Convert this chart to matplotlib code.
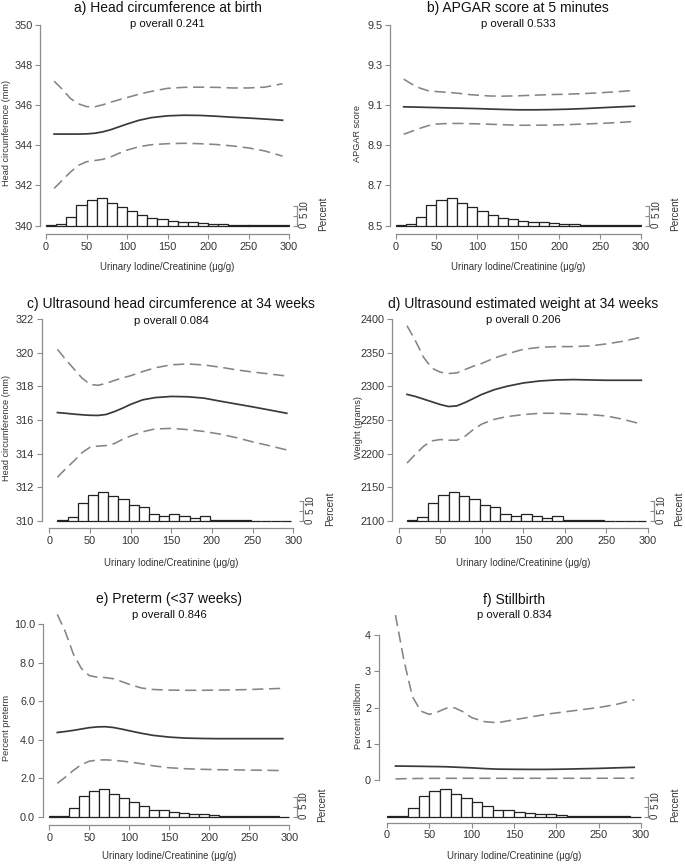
import matplotlib
matplotlib.use("Agg")
import matplotlib.pyplot as plt

plt.rcParams['font.family'] = ['Liberation Sans', 'DejaVu Sans']

# ---------------- data ----------------
x_curve = [10, 20, 30, 40, 50, 60, 70, 80, 90, 100, 115, 130, 150, 170, 190, 210, 230, 250, 270, 292]

a_est = [344.56, 344.56, 344.56, 344.56, 344.57, 344.60, 344.67, 344.78, 344.92, 345.06,
         345.25, 345.38, 345.47, 345.50, 345.49, 345.45, 345.40, 345.36, 345.31, 345.25]
a_hi = [347.20, 346.80, 346.34, 346.07, 345.93, 345.92, 346.02, 346.15, 346.27, 346.38,
        346.55, 346.69, 346.84, 346.89, 346.90, 346.89, 346.86, 346.86, 346.90, 347.07]
a_lo = [341.85, 342.25, 342.66, 343.00, 343.18, 343.24, 343.30, 343.42, 343.60, 343.76,
        343.93, 344.03, 344.08, 344.10, 344.08, 344.04, 343.97, 343.87, 343.72, 343.46]

b_est = [9.092, 9.091, 9.090, 9.089, 9.088, 9.087, 9.086, 9.085, 9.084, 9.083,
         9.081, 9.079, 9.077, 9.077, 9.078, 9.080, 9.083, 9.087, 9.091, 9.095]
b_hi = [9.230, 9.205, 9.185, 9.172, 9.168, 9.165, 9.162, 9.158, 9.153, 9.150,
        9.146, 9.145, 9.147, 9.150, 9.153, 9.155, 9.158, 9.162, 9.167, 9.174]
b_lo = [8.955, 8.970, 8.985, 8.998, 9.006, 9.008, 9.009, 9.009, 9.008, 9.007,
        9.005, 9.003, 9.000, 9.000, 9.001, 9.003, 9.006, 9.009, 9.013, 9.019]

c_est = [316.44, 316.40, 316.35, 316.31, 316.28, 316.27, 316.33, 316.50, 316.70, 316.93,
         317.20, 317.33, 317.40, 317.38, 317.30, 317.12, 316.95, 316.78, 316.60, 316.40]
c_hi = [320.20, 319.60, 319.05, 318.50, 318.12, 318.06, 318.18, 318.35, 318.50, 318.63,
        318.88, 319.10, 319.28, 319.33, 319.27, 319.14, 318.98, 318.85, 318.74, 318.61]
c_lo = [312.60, 313.10, 313.55, 314.05, 314.38, 314.45, 314.48, 314.60, 314.85, 315.05,
        315.30, 315.47, 315.50, 315.43, 315.32, 315.16, 314.95, 314.70, 314.48, 314.22]

d_est = [2288, 2285, 2281, 2277, 2273, 2270, 2271, 2276, 2282, 2288,
         2295, 2300, 2305, 2308, 2309.5, 2310, 2309.5, 2309, 2309, 2309]
d_hi = [2390, 2368, 2343, 2327, 2321, 2319, 2320, 2325, 2330, 2334,
        2342, 2348, 2355, 2358, 2359, 2359, 2360, 2363, 2367, 2373]
d_lo = [2186, 2199, 2211, 2219, 2221, 2220, 2220, 2226, 2236, 2244,
        2251, 2255, 2258, 2260, 2260, 2259, 2258, 2256, 2251, 2244]

e_est = [4.37, 4.42, 4.48, 4.55, 4.62, 4.66, 4.67, 4.63, 4.55, 4.46,
         4.33, 4.22, 4.13, 4.08, 4.06, 4.05, 4.05, 4.05, 4.05, 4.05]
e_hi = [10.50, 9.60, 8.45, 7.70, 7.32, 7.24, 7.22, 7.16, 7.02, 6.87,
        6.68, 6.60, 6.57, 6.56, 6.56, 6.57, 6.58, 6.60, 6.63, 6.66]
e_lo = [1.73, 2.05, 2.40, 2.70, 2.88, 2.94, 2.95, 2.93, 2.89, 2.84,
        2.75, 2.64, 2.54, 2.49, 2.46, 2.44, 2.43, 2.42, 2.41, 2.39]

f_est = [0.385, 0.383, 0.380, 0.377, 0.373, 0.370, 0.365, 0.355, 0.345, 0.335,
         0.315, 0.300, 0.295, 0.292, 0.293, 0.300, 0.310, 0.320, 0.335, 0.350]
f_hi = [4.55, 3.30, 2.30, 1.90, 1.81, 1.88, 1.98, 1.99, 1.88, 1.72,
        1.61, 1.58, 1.66, 1.74, 1.82, 1.88, 1.94, 2.00, 2.08, 2.21]
f_lo = [0.030, 0.035, 0.040, 0.042, 0.045, 0.046, 0.047, 0.047, 0.047, 0.047,
        0.047, 0.047, 0.048, 0.048, 0.048, 0.048, 0.048, 0.048, 0.049, 0.050]

bin_width = 12.5
hist_birth_start = 0
hist_birth = [0.3, 0.6, 4.4, 10.4, 13.0, 14.0, 11.4, 9.5, 7.2, 5.5, 3.6, 3.2,
              2.5, 1.9, 1.6, 1.2, 0.8, 0.6, 0.5, 0.4, 0.3, 0.2, 0.2, 0.1]
hist_us_start = 10
hist_us = [0.3, 2.0, 9.1, 13.0, 14.4, 12.3, 11.2, 7.9, 7.0, 3.5, 2.7, 3.5,
           2.3, 1.5, 2.3, 0.5, 0.5, 0.5, 0.3, 0.1, 0.1, 0.2, 0.1]

titles = ["a) Head circumference at birth", "b) APGAR score at 5 minutes",
          "c) Ultrasound head circumference at 34 weeks", "d) Ultrasound estimated weight at 34 weeks",
          "e) Preterm (<37 weeks)", "f) Stillbirth"]
p_values = ["0.241", "0.533", "0.084", "0.206", "0.846", "0.834"]
y_labels = ["Head circumference (mm)", "APGAR score", "Head circumference (mm)",
            "Weight (grams)", "Percent preterm", "Percent stillborn"]
y_ticks = [[340, 342, 344, 346, 348, 350],
           [8.5, 8.7, 8.9, 9.1, 9.3, 9.5],
           [310, 312, 314, 316, 318, 320, 322],
           [2100, 2150, 2200, 2250, 2300, 2350, 2400],
           [0.0, 2.0, 4.0, 6.0, 8.0, 10.0],
           [0, 1, 2, 3, 4]]
y_fmt = ["{:.0f}", "{:.1f}", "{:.0f}", "{:.0f}", "{:.1f}", "{:.0f}"]
x_ticks = [0, 50, 100, 150, 200, 250, 300]
x_label = "Urinary Iodine/Creatinine (\u03bcg/g)"

series = [(a_est, a_hi, a_lo), (b_est, b_hi, b_lo), (c_est, c_hi, c_lo),
          (d_est, d_hi, d_lo), (e_est, e_hi, e_lo), (f_est, f_hi, f_lo)]
hists = [(hist_birth_start, hist_birth), (hist_birth_start, hist_birth),
         (hist_us_start, hist_us), (hist_us_start, hist_us),
         (hist_birth_start, hist_birth), (hist_birth_start, hist_birth)]

# ---------------- layout (pixels) ----------------
W, H = 685, 865
layout = [
    dict(box=(40, 297, 234, 25), xpx=(46, 289), ypx=((340, 225.5), (350, 25)), base=225.5,
         title_y=8, p_y=24, ylab_x=7, xlab_y=267, perc_x=323),
    dict(box=(390, 649, 234, 25), xpx=(395.5, 641), ypx=((8.5, 225.5), (9.5, 25)), base=225.5,
         title_y=8, p_y=24, ylab_x=357, xlab_y=267, perc_x=675),
    dict(box=(41.7, 303, 528, 319), xpx=(49.3, 293.3), ypx=((310, 521), (322, 319)), base=521,
         title_y=304, p_y=321, ylab_x=7, xlab_y=563, perc_x=330),
    dict(box=(392, 654, 528, 319), xpx=(398.7, 648), ypx=((2100, 521), (2400, 319)), base=521,
         title_y=304, p_y=320, ylab_x=358, xlab_y=563, perc_x=679),
    dict(box=(42.7, 296.7, 825, 624), xpx=(49.3, 289.3), ypx=((0, 816.7), (10, 624)), base=816.7,
         title_y=599, p_y=615, ylab_x=7, xlab_y=856, perc_x=322),
    dict(box=(378.7, 648, 822.7, 635), xpx=(387, 641), ypx=((0, 780), (4, 635)), base=816.7,
         title_y=600, p_y=615, ylab_x=358, xlab_y=856, perc_x=675),
]

fig = plt.figure(figsize=(W / 100, H / 100), dpi=100)

spine_col = "#8c8c8c"
text_col = "#333333"
solid_col = "#3a3a3a"
dash_col = "#858585"

for i, lay in enumerate(layout):
    L, R, B, T = lay['box']
    ax = fig.add_axes([L / W, 1 - B / H, (R - L) / W, (B - T) / H])
    x0p, x3p = lay['xpx']
    k = 300.0 / (x3p - x0p)
    ax.set_xlim((L - x0p) * k, (R - x0p) * k)
    (v1, p1), (v2, p2) = lay['ypx']
    s = (v2 - v1) / (p1 - p2)
    ax.set_ylim(v1 - (B - p1) * s, v1 + (p1 - T) * s)

    est, hi, lo = series[i]
    ax.plot(x_curve, est, color=solid_col, lw=1.25, clip_on=False, zorder=3)
    for band in (hi, lo):
        ax.plot(x_curve, band, color=dash_col, lw=1.15, dashes=(7, 3.5), clip_on=False, zorder=3)

    for sp in ('top', 'right'):
        ax.spines[sp].set_visible(False)
    ax.spines['left'].set_color(spine_col)
    ax.spines['bottom'].set_color(spine_col)
    ax.spines['left'].set_linewidth(0.9)
    ax.spines['bottom'].set_linewidth(0.9)
    yt = y_ticks[i]
    ax.spines['left'].set_bounds(yt[0], yt[-1])
    ax.spines['bottom'].set_bounds(0, 300)
    ax.set_yticks(yt)
    ax.set_yticklabels([y_fmt[i].format(v) for v in yt])
    ax.set_xticks(x_ticks)
    ax.tick_params(axis='both', colors=spine_col, labelcolor=text_col, labelsize=7.8,
                   length=3.5, width=0.8, pad=2)

    # histogram on twin axis (2 px per percent)
    ax2 = ax.twinx()
    base = lay['base']
    y0 = -(B - base) / 2.0
    ax2.set_ylim(y0, y0 + (B - T) / 2.0)
    start, vals = hists[i]
    lefts = [start + j * bin_width for j in range(len(vals))]
    ax2.bar(lefts, vals, width=bin_width, align='edge', color='white',
            edgecolor='#222222', linewidth=0.9, zorder=2)
    for sp in ('top', 'left', 'bottom'):
        ax2.spines[sp].set_visible(False)
    ax2.spines['right'].set_color(spine_col)
    ax2.spines['right'].set_linewidth(0.9)
    ax2.spines['right'].set_bounds(0, 10)
    ax2.set_yticks([0, 5, 10])
    ax2.tick_params(axis='y', direction='in', colors=spine_col, labelcolor=text_col,
                    labelsize=7, length=3, width=0.8, pad=1.5, labelrotation=90)
    for lab in ax2.get_yticklabels():
        lab.set_va('center')
    ax.set_zorder(ax2.get_zorder() + 1)
    ax.patch.set_visible(False)

    cx = (x0p + x3p) / 2.0
    fig.text(cx / W, 1 - lay['title_y'] / H, titles[i], ha='center', va='center',
             fontsize=10, color='#111111')
    fig.text(cx / W, 1 - lay['p_y'] / H, "p overall " + p_values[i], ha='center', va='center',
             fontsize=8.2, color='#111111')
    fig.text(lay['ylab_x'] / W, 1 - ((p1 + p2) / 2.0 + 8) / H, y_labels[i], rotation=90,
             ha='center', va='center', fontsize=6.6, color=text_col)
    fig.text(cx / W, 1 - lay['xlab_y'] / H, x_label, ha='center', va='center',
             fontsize=6.9, color=text_col)
    fig.text(lay['perc_x'] / W, 1 - (base - 12) / H, "Percent", rotation=90,
             ha='center', va='center', fontsize=7.2, color=text_col)

fig.savefig("out.png", dpi=100, facecolor='white')
